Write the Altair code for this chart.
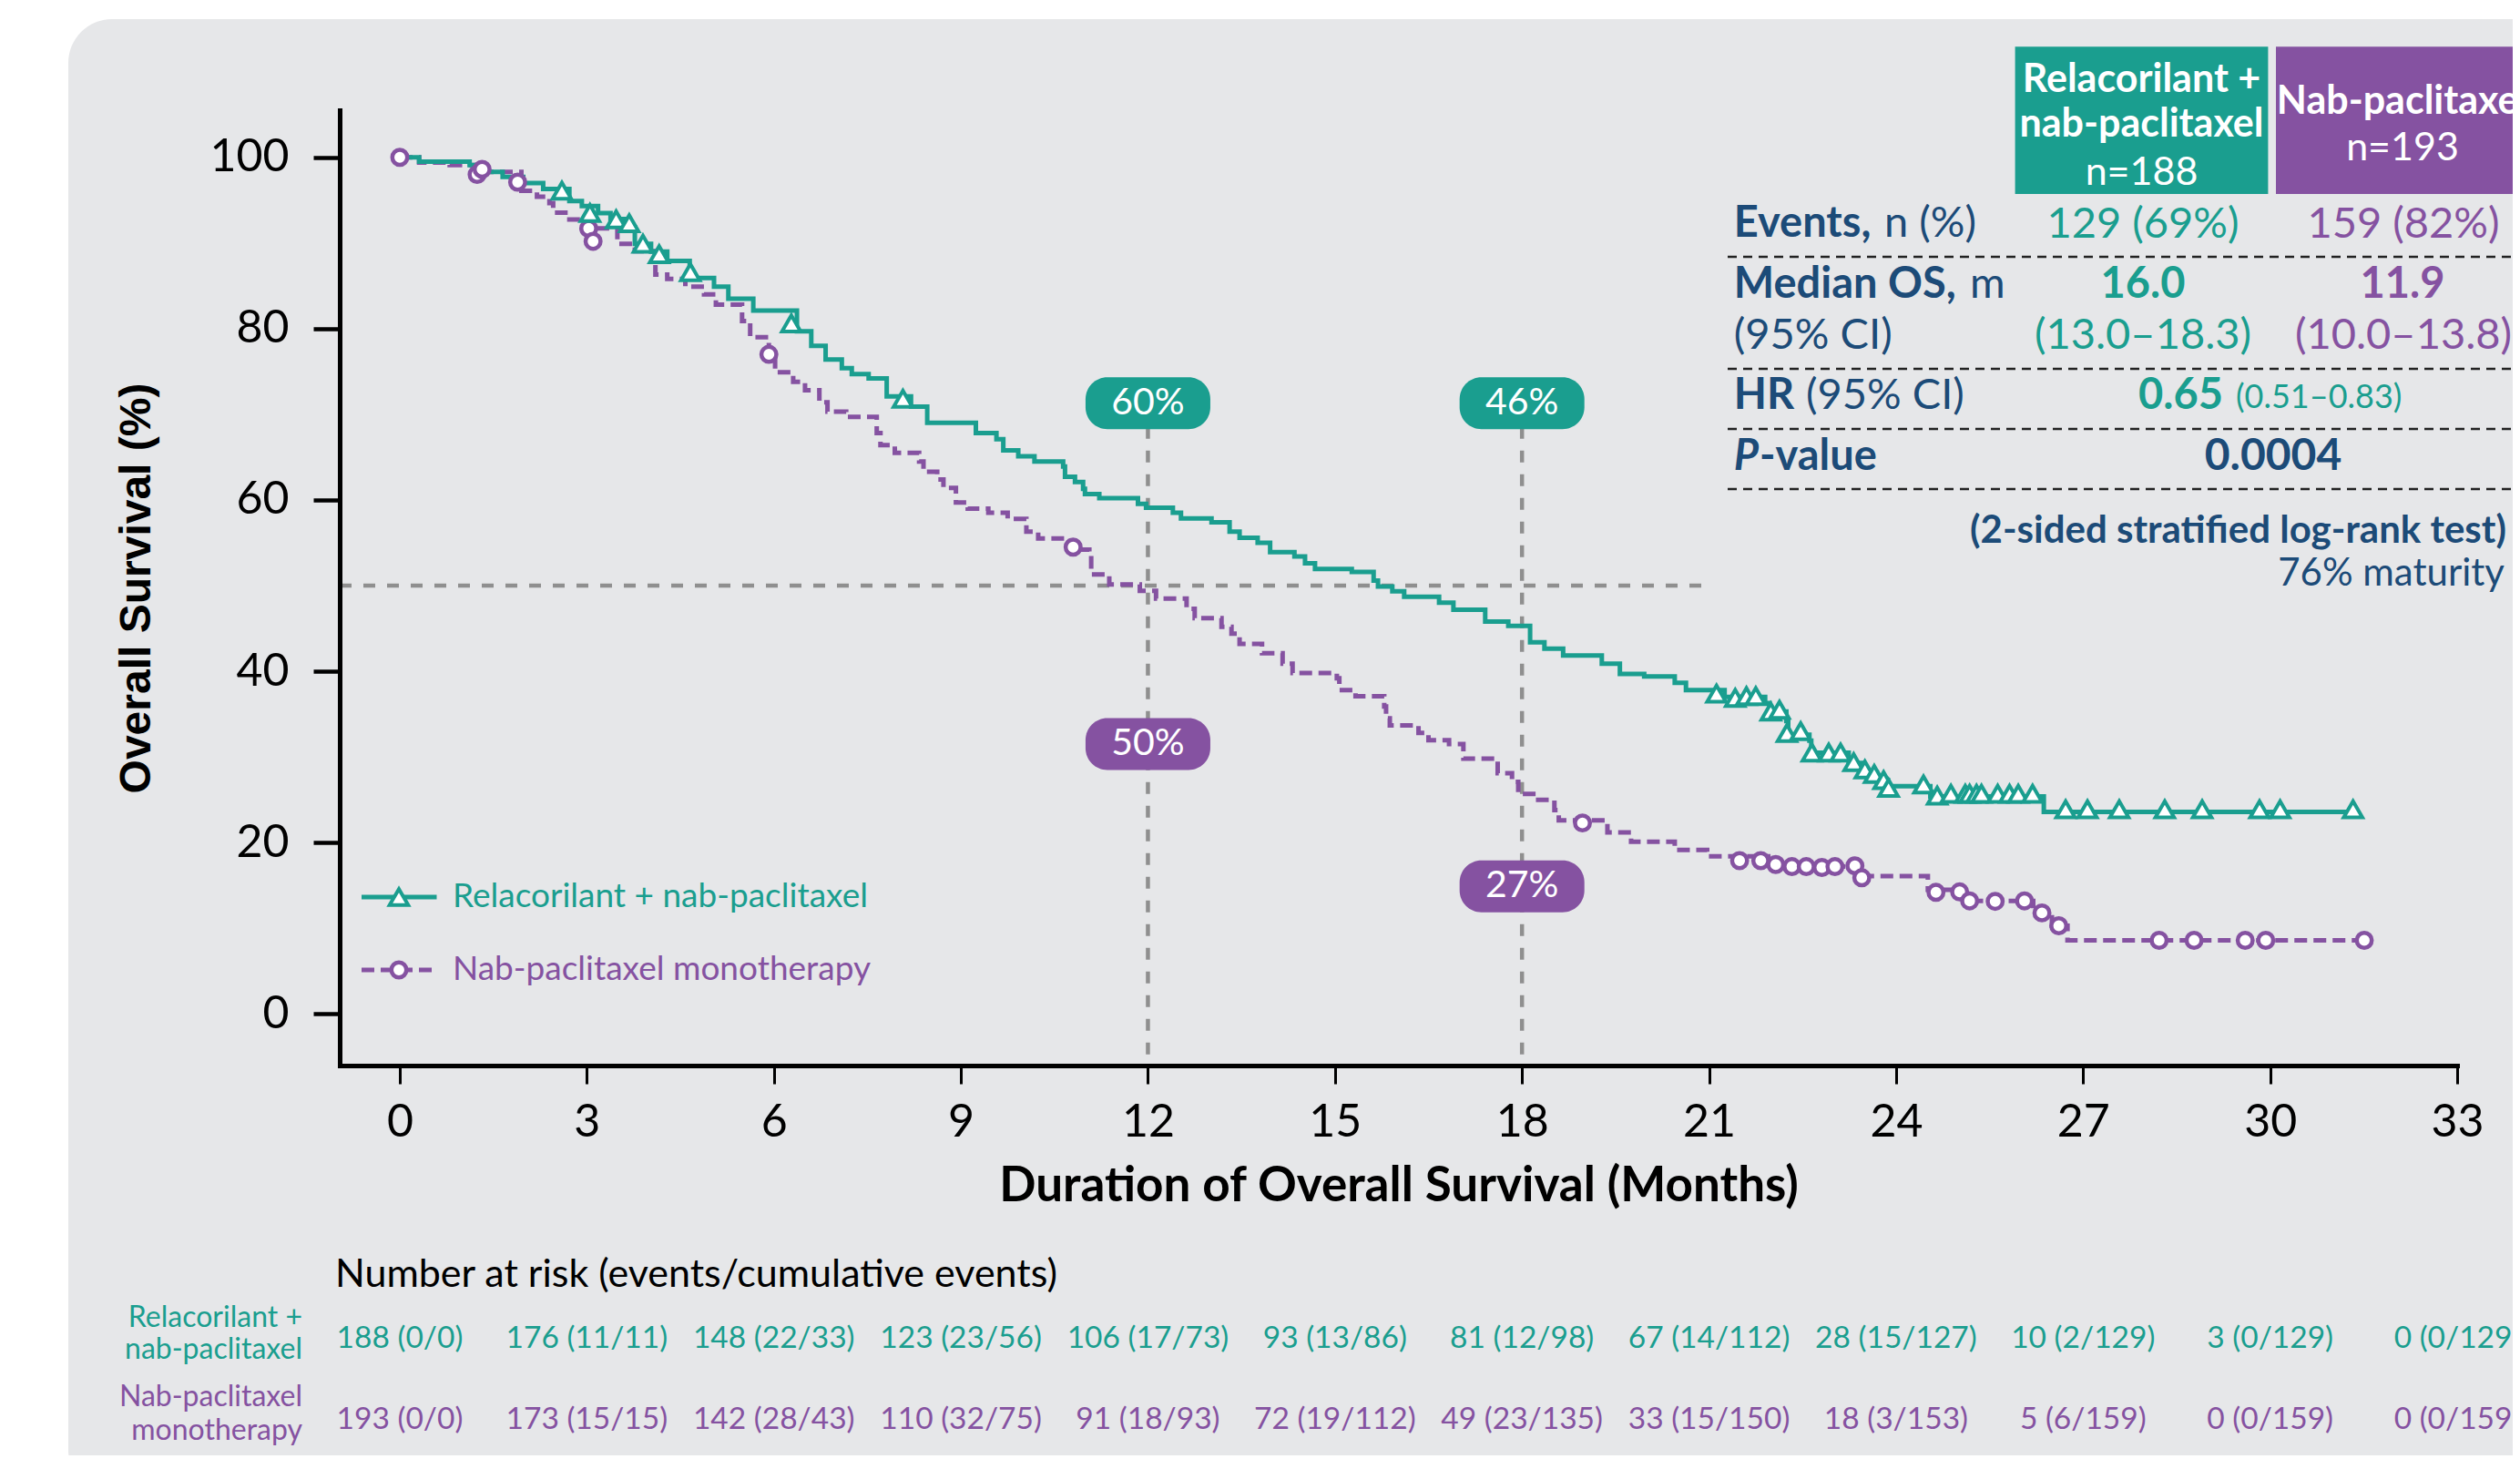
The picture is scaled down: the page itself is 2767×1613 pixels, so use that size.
import altair as alt
import pandas as pd

# ---------------- data ----------------
teal_t = [0, 0.31, 1.12, 1.32, 1.65, 1.98, 2.30, 2.72, 2.92, 3.18,
          3.38, 3.64, 3.77, 4.03, 4.29, 4.65, 5.04, 5.27, 5.67, 6.37,
          6.60, 6.83, 7.09, 7.25, 7.52, 7.81, 8.20, 8.46, 9.24, 9.57,
          9.68, 9.92, 10.18, 10.64, 10.67, 10.83, 10.96, 10.99, 11.22, 11.84,
          11.97, 12.40, 12.53, 13.02, 13.31, 13.47, 13.76, 13.96, 14.35, 14.52,
          14.68, 15.27, 15.62, 15.69, 15.92, 16.11, 16.67, 16.90, 17.41, 17.78,
          18.13, 18.36, 18.66, 19.28, 19.57, 19.96, 20.45, 20.63, 21.25, 21.90,
          21.97, 22.24, 22.27, 22.61, 22.64, 23.24, 23.46, 23.69, 23.87, 24.55,
          26.37, 31.33]
teal_s = [100, 99.5, 99.1, 98.3, 97.7, 97.0, 96.3, 94.9, 94.3, 93.5,
          92.8, 91.8, 89.9, 89.0, 87.9, 85.9, 84.9, 83.5, 82.1, 79.7,
          78.0, 76.4, 75.4, 74.7, 74.2, 72.1, 70.9, 69.0, 67.8, 67.1,
          65.8, 65.1, 64.5, 63.9, 62.7, 62.1, 61.3, 60.7, 60.2, 59.55,
          59.1, 58.5, 57.85, 57.4, 56.3, 55.6, 55.0, 53.9, 53.4, 52.6,
          51.95, 51.6, 50.6, 49.9, 49.35, 48.7, 48.0, 47.2, 45.8, 45.3,
          43.4, 42.65, 41.85, 40.9, 39.7, 39.4, 38.66, 37.8, 37.0, 36.3,
          35.3, 34.2, 32.6, 31.9, 30.5, 29.3, 28.2, 27.3, 26.6, 25.4,
          23.6, 23.6]

purple_t = [0, 0.31, 0.80, 1.30, 1.95, 2.20, 2.40, 2.46, 2.72, 2.92,
            3.06, 3.49, 3.77, 4.10, 4.29, 4.58, 4.88, 5.07, 5.49, 5.62,
            5.92, 6.02, 6.31, 6.50, 6.73, 6.86, 7.16, 7.65, 7.71, 7.94,
            8.33, 8.40, 8.62, 8.72, 8.92, 9.11, 9.44, 9.75, 10.05, 10.24,
            10.75, 11.06, 11.09, 11.38, 11.87, 12.13, 12.62, 12.75, 13.18, 13.34,
            13.47, 13.83, 14.16, 14.32, 15.03, 15.07, 15.33, 15.79, 15.82, 15.88,
            16.34, 16.50, 16.83, 17.06, 17.58, 17.61, 17.84, 17.94, 18.26, 18.52,
            18.59, 19.37, 19.75, 20.45, 20.97, 21.95, 22.20, 23.40, 24.51, 25.10,
            26.20, 26.50, 26.75, 31.51]
purple_s = [100, 99.4, 99.1, 98.3, 96.1, 95.4, 94.65, 93.55, 92.75, 92.3,
            91.7, 89.9, 89.05, 86.3, 85.8, 84.9, 84.0, 82.8, 80.9, 79.0,
            77.0, 74.9, 73.8, 72.8, 71.4, 70.3, 69.7, 67.8, 66.4, 65.5,
            64.5, 63.3, 62.4, 61.4, 59.7, 59.0, 58.5, 57.8, 56.3, 55.5,
            54.2, 53.7, 51.3, 50.15, 49.4, 48.5, 47.3, 46.2, 45.2, 44.4,
            43.2, 42.1, 40.9, 39.8, 39.2, 37.8, 37.1, 35.9, 34.5, 33.7,
            32.8, 31.95, 31.5, 29.8, 29.5, 28.1, 27.1, 25.7, 25.0, 23.8,
            22.6, 21.2, 20.1, 19.15, 18.4, 17.45, 17.2, 16.1, 14.5, 13.2,
            11.8, 10.3, 8.6, 8.6]

teal_cens_t = [2.60, 3.05, 3.47, 3.68, 3.90, 4.16, 4.66, 6.28, 8.07,
               21.12, 21.42, 21.60, 21.75, 21.99, 22.13, 22.25, 22.47, 22.65, 22.92,
               23.11, 23.32, 23.50, 23.65, 23.80, 23.88, 24.44, 24.66,
               24.88, 25.11, 25.18, 25.29, 25.37, 25.63, 25.82, 25.96, 26.19,
               26.72, 27.07, 27.58, 28.31, 28.91, 29.83, 30.16, 31.33]
teal_cens_s = [96.1, 93.5, 92.75, 92.3, 89.9, 88.7, 86.6, 80.6, 71.8,
               37.4, 36.9, 37.1, 37.1, 35.3, 35.5, 32.8, 33.0, 30.5, 30.5,
               30.5, 29.4, 28.55, 28.0, 27.3, 26.4, 26.8, 25.5,
               25.7, 25.7, 25.7, 25.7, 25.7, 25.7, 25.7, 25.7, 25.7,
               23.9, 23.9, 23.9, 23.9, 23.9, 23.9, 23.9, 23.9]

purple_cens_t = [0, 1.24, 1.32, 1.89, 3.03, 3.10, 5.92, 10.80, 18.97,
                 21.49, 21.83, 22.07, 22.33, 22.56, 22.81, 23.02, 23.34, 23.45,
                 24.64, 25.02, 25.18, 25.59, 26.06, 26.34, 26.61,
                 28.22, 28.78, 29.60, 29.93, 31.51]
purple_cens_s = [100, 98.0, 98.6, 97.1, 91.7, 90.2, 77.0, 54.5, 22.3,
                 17.9, 17.9, 17.45, 17.2, 17.2, 17.1, 17.2, 17.3, 15.9,
                 14.2, 14.25, 13.2, 13.15, 13.2, 11.8, 10.3,
                 8.6, 8.6, 8.6, 8.6, 8.6]

x_ticks = [0, 3, 6, 9, 12, 15, 18, 21, 24, 27, 30, 33]
y_ticks = [0, 20, 40, 60, 80, 100]
x_title = "Duration of Overall Survival (Months)"
y_title = "Overall Survival (%)"

median_level = 50
median_line_end = 21.0
landmark_t = [12, 18]
badge_t = [12, 18, 12, 18]
badge_s = [71.3, 71.3, 31.5, 14.9]
badge_text = ["60%", "46%", "50%", "27%"]
badge_arm = ["teal", "teal", "purple", "purple"]

legend_labels = ["Relacorilant + nab-paclitaxel", "Nab-paclitaxel monotherapy"]

risk_times = [0, 3, 6, 9, 12, 15, 18, 21, 24, 27, 30, 33]
risk_teal = ["188 (0/0)", "176 (11/11)", "148 (22/33)", "123 (23/56)", "106 (17/73)",
             "93 (13/86)", "81 (12/98)", "67 (14/112)", "28 (15/127)", "10 (2/129)",
             "3 (0/129)", "0 (0/129)"]
risk_purple = ["193 (0/0)", "173 (15/15)", "142 (28/43)", "110 (32/75)", "91 (18/93)",
               "72 (19/112)", "49 (23/135)", "33 (15/150)", "18 (3/153)", "5 (6/159)",
               "0 (0/159)", "0 (0/159)"]
risk_title = "Number at risk (events/cumulative events)"
risk_label_teal = ["Relacorilant +", "nab-paclitaxel"]
risk_label_purple = ["Nab-paclitaxel", "monotherapy"]

header_teal = ["Relacorilant +", "nab-paclitaxel", "n=188"]
header_purple = ["Nab-paclitaxel", "n=193"]
row_bold = ["Events,", "Median OS,", "HR", "P"]
row_rest = ["n (%)", "m", "(95% CI)", "-value"]
row_ci = "(95% CI)"
teal_vals = ["129 (69%)", "16.0", "(13.0–18.3)"]
purple_vals = ["159 (82%)", "11.9", "(10.0–13.8)"]
hr_value = "0.65"
hr_ci = "(0.51–0.83)"
p_value = "0.0004"
test_note = "(2-sided stratified log-rank test)"
maturity = "76% maturity"

# ---------------- styling / layout ----------------
TEAL = "#1a9e8f"
PURPLE = "#8552a1"
NAVY = "#1c4b78"
BG = "#e6e7e9"
REF = "#8f8f8f"
FONT = "Lato"

OX, OY = 373, 121          # plot origin on the page
W, H = 2325, 1049
XDOM = [-0.964, 33]
YDOM = [-6.02, 105.5]


def px(X):
    return X - OX


def py(Y):
    return Y - OY


ONE = pd.DataFrame({"k": [0]})

xscale = alt.Scale(domain=XDOM, nice=False, zero=False)
yscale = alt.Scale(domain=YDOM, nice=False, zero=False)

xaxis = alt.Axis(values=x_ticks, title=x_title, grid=False, zindex=1,
                 labelFont=FONT, labelFontSize=50, labelColor="black", labelPadding=17,
                 labelFlush=False, labelOverlap=False,
                 tickSize=20, tickWidth=3, tickColor="black",
                 domainColor="black", domainWidth=5, domainCap="square",
                 titleFont=FONT, titleFontSize=53, titleFontWeight="bold", titleColor="black",
                 titleY=132, titleBaseline="middle")
yaxis = alt.Axis(values=y_ticks, title=y_title, grid=False, zindex=1,
                 labelFont=FONT, labelFontSize=50, labelColor="black", labelPadding=27,
                 labelFlush=False, labelOverlap=False,
                 tickSize=29, tickWidth=4.5, tickColor="black",
                 domainColor="black", domainWidth=5, domainCap="square",
                 titleFont="Liberation Sans", titleFontSize=48, titleFontWeight="bold",
                 titleColor="black", titleX=-223, titleY=H / 2, titleAngle=270,
                 titleBaseline="middle", titleAlign="center")

X = alt.X("t:Q", scale=xscale, axis=xaxis)
Y = alt.Y("s:Q", scale=yscale, axis=yaxis)


def T(label, x, y, size, color, weight="normal", align="left", font=FONT, style="normal"):
    return alt.Chart(ONE).mark_text(text=label, fontSize=size, color=color, fontWeight=weight,
                                    align=align, font=font, fontStyle=style,
                                    baseline="middle").encode(x=alt.value(px(x)), y=alt.value(py(y)))


def R(x1, x2, y1, y2, color, radius=0):
    return alt.Chart(ONE).mark_rect(color=color, cornerRadius=radius).encode(
        x=alt.value(px(x1)), x2=alt.value(px(x2)), y=alt.value(py(y1)), y2=alt.value(py(y2)))


def HL(x1, x2, y, color, width, dash):
    return alt.Chart(ONE).mark_rule(color=color, strokeWidth=width, strokeDash=dash).encode(
        x=alt.value(px(x1)), x2=alt.value(px(x2)), y=alt.value(py(y)))


layers = []

# background panel
layers.append(R(75, 2830, 21, 1640, BG, 48))

# reference lines
df_h = pd.DataFrame({"t": [XDOM[0]], "t2": [median_line_end], "s": [median_level]})
layers.append(alt.Chart(df_h).mark_rule(color=REF, strokeWidth=4.5, strokeDash=[13, 13]).encode(
    x=X, x2="t2:Q", y=Y))
df_v = pd.DataFrame({"t": landmark_t, "s": [badge_s[0]] * 2, "s2": [YDOM[0]] * 2})
layers.append(alt.Chart(df_v).mark_rule(color=REF, strokeWidth=4.5, strokeDash=[13, 13]).encode(
    x=X, y=Y, y2="s2:Q"))

# KM curves
df_teal = pd.DataFrame({"t": teal_t, "s": teal_s})
df_purple = pd.DataFrame({"t": purple_t, "s": purple_s})
layers.append(alt.Chart(df_purple).mark_line(interpolate="step-after", color=PURPLE,
                                             strokeWidth=5, strokeDash=[14, 7]).encode(x=X, y=Y))
layers.append(alt.Chart(df_teal).mark_line(interpolate="step-after", color=TEAL,
                                           strokeWidth=5).encode(x=X, y=Y))

# censor marks
df_pc = pd.DataFrame({"t": purple_cens_t, "s": purple_cens_s})
df_tc = pd.DataFrame({"t": teal_cens_t, "s": teal_cens_s})
layers.append(alt.Chart(df_pc).mark_point(shape="circle", filled=True, fill="white", stroke=PURPLE,
                                          strokeWidth=4.5, size=270, opacity=1).encode(x=X, y=Y))
layers.append(alt.Chart(df_tc).mark_point(shape="triangle-up", filled=True, fill="white", stroke=TEAL,
                                          strokeWidth=4, size=420, opacity=1).encode(x=X, y=Y))

# badges
df_b = pd.DataFrame({"t": badge_t, "s": badge_s, "label": badge_text, "arm": badge_arm})
armcol = alt.Color("arm:N", scale=alt.Scale(domain=["teal", "purple"], range=[TEAL, PURPLE]), legend=None)
layers.append(alt.Chart(df_b).mark_rect(width=137, height=57, cornerRadius=24).encode(
    x=X, y=Y, color=armcol))
layers.append(alt.Chart(df_b).mark_text(font=FONT, fontSize=41, color="white", align="center",
                                        baseline="middle").encode(x=X, y=Y, text="label:N"))

# in-plot legend
layers.append(HL(397, 479.5, 985, TEAL, 5, [1, 0]))
layers.append(HL(397, 479.5, 1065, PURPLE, 5, [14, 7]))
layers.append(alt.Chart(ONE).mark_point(shape="triangle-up", filled=True, fill="white", stroke=TEAL,
                                        strokeWidth=4, size=420, opacity=1).encode(
    x=alt.value(px(438)), y=alt.value(py(985))))
layers.append(alt.Chart(ONE).mark_point(shape="circle", filled=True, fill="white", stroke=PURPLE,
                                        strokeWidth=4.5, size=270, opacity=1).encode(
    x=alt.value(px(438)), y=alt.value(py(1065))))
layers.append(T(legend_labels[0], 497, 985, 37, TEAL))
layers.append(T(legend_labels[1], 497, 1065, 37, PURPLE))

# summary table: headers
layers.append(R(2212.6, 2490.4, 51.3, 213, TEAL))
layers.append(R(2499, 2830, 51.3, 213, PURPLE))
layers.append(T(header_teal[0], 2351.5, 87.6, 43, "white", "bold", "center"))
layers.append(T(header_teal[1], 2351.5, 137, 43, "white", "bold", "center"))
layers.append(T(header_teal[2], 2351.5, 190, 43, "white", "normal", "center"))
layers.append(T(header_purple[0], 2638, 111.6, 43, "white", "bold", "center"))
layers.append(T(header_purple[1], 2638, 163, 43, "white", "normal", "center"))

# summary table: rows
LX = 1903.8
FS = 47
layers.append(T(row_bold[0], LX, 246, FS, NAVY, "bold"))
layers.append(T(row_rest[0], 2069, 246, FS, NAVY))
layers.append(T(row_bold[1], LX, 313, FS, NAVY, "bold"))
layers.append(T(row_rest[1], 2163, 313, FS, NAVY))
layers.append(T(row_ci, LX, 369, FS, NAVY))
layers.append(T(row_bold[2], LX, 435, FS, NAVY, "bold"))
layers.append(T(row_rest[2], 1983, 435, FS, NAVY))
layers.append(T(row_bold[3], LX, 502, FS, NAVY, "bold", style="italic"))
layers.append(T(row_rest[3], 1932, 502, FS, NAVY, "bold"))

layers.append(T(teal_vals[0], 2353, 247, FS, TEAL, "normal", "center"))
layers.append(T(purple_vals[0], 2639, 247, FS, PURPLE, "normal", "center"))
layers.append(T(teal_vals[1], 2353, 313, FS, TEAL, "bold", "center"))
layers.append(T(purple_vals[1], 2638, 313, FS, PURPLE, "bold", "center"))
layers.append(T(teal_vals[2], 2353, 369, FS, TEAL, "normal", "center"))
layers.append(T(purple_vals[2], 2639, 369, FS, PURPLE, "normal", "center"))
layers.append(T(hr_value, 2441, 435, FS, TEAL, "bold", "right"))
layers.append(T(hr_ci, 2455, 437, 36, TEAL, "normal", "left"))
layers.append(T(p_value, 2496, 502, 48, NAVY, "bold", "center"))
layers.append(T(test_note, 2752, 583, 42, NAVY, "bold", "right"))
layers.append(T(maturity, 2750, 630, 42, NAVY, "normal", "right"))

for ysep in [282, 405, 471, 537]:
    layers.append(HL(1897, 2800, ysep, "#222222", 2.5, [10, 7]))

# number at risk table
layers.append(T(risk_title, 368, 1400, 43, "black"))
layers.append(T(risk_label_teal[0], 332, 1447, 32, TEAL, "normal", "right"))
layers.append(T(risk_label_teal[1], 332, 1482, 32, TEAL, "normal", "right"))
layers.append(T(risk_label_purple[0], 332, 1534, 32, PURPLE, "normal", "right"))
layers.append(T(risk_label_purple[1], 332, 1571, 32, PURPLE, "normal", "right"))
df_rt = pd.DataFrame({"t": risk_times, "label": risk_teal})
df_rp = pd.DataFrame({"t": risk_times, "label": risk_purple})
layers.append(alt.Chart(df_rt).mark_text(font=FONT, fontSize=33.5, color=TEAL, align="center",
                                         baseline="middle").encode(x=X, y=alt.value(py(1470)),
                                                                   text="label:N"))
layers.append(alt.Chart(df_rp).mark_text(font=FONT, fontSize=33.5, color=PURPLE, align="center",
                                         baseline="middle").encode(x=X, y=alt.value(py(1559)),
                                                                   text="label:N"))

chart = alt.layer(*layers).properties(
    width=W, height=H,
    padding={"left": 365, "top": 113, "right": 61, "bottom": 428},
    autosize=alt.AutoSizeParams(type="none"),
).configure_view(stroke=None)

chart.save("out.html", embed_options={"renderer": "svg", "actions": False})
